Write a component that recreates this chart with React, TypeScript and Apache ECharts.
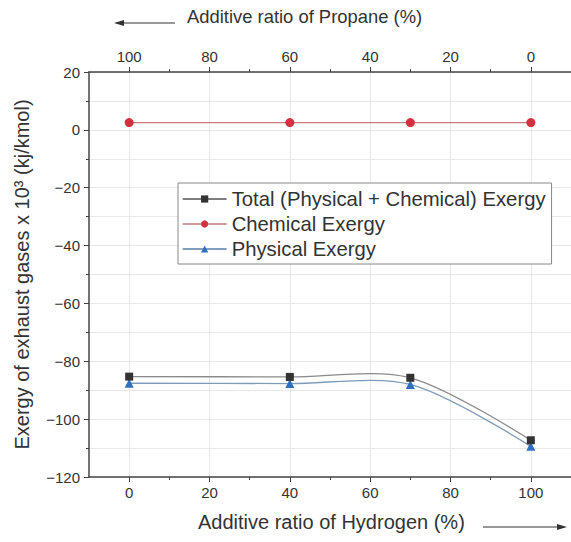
import React, { useEffect, useRef } from "react";
import * as echarts from "echarts";

const hydrogen = [0, 40, 70, 100];
const totalExergy = [-85.3, -85.4, -85.7, -107.3];
const chemicalExergy = [2.5, 2.5, 2.5, 2.5];
const physicalExergy = [-87.6, -87.7, -88.0, -109.4];
const majorTicks = [0, 20, 40, 60, 80, 100];
const minorTicks = [10, 30, 50, 70, 90];

const FONT = "'Liberation Sans', Arial, sans-serif";
const AX = "#444";
const TXT = "#333";
const SMOOTH = 0.3;

function splinePath(pts: number[][]): string {
  const n = pts.length;
  const cpIn: number[][] = [];
  const cpOut: number[][] = [];
  for (let i = 0; i < n; i++) {
    const p = pts[i];
    if (i === 0 || i === n - 1) {
      cpIn.push(p);
      cpOut.push(p);
      continue;
    }
    const a = pts[i - 1];
    const b = pts[i + 1];
    const vx = b[0] - a[0];
    const vy = b[1] - a[1];
    const l0 = Math.hypot(p[0] - a[0], p[1] - a[1]);
    const l1 = Math.hypot(b[0] - p[0], b[1] - p[1]);
    const r = l1 / (l0 + l1);
    cpIn.push([p[0] - vx * SMOOTH * (1 - r), p[1] - vy * SMOOTH * (1 - r)]);
    cpOut.push([p[0] + vx * SMOOTH * r, p[1] + vy * SMOOTH * r]);
  }
  let d = `M${pts[0][0]},${pts[0][1]}`;
  for (let i = 0; i < n - 1; i++) {
    const c1 = cpOut[i];
    const c2 = cpIn[i + 1];
    const e = pts[i + 1];
    d += ` C${c1[0]},${c1[1]} ${c2[0]},${c2[1]} ${e[0]},${e[1]}`;
  }
  return d;
}

const fmtMinus = (v: number) => String(v).replace("-", "\u2212");

export default function App() {
  const ref = useRef<HTMLDivElement>(null);
  useEffect(() => {
    document.body.style.margin = "0";
    if (!ref.current) return;
    const chart = echarts.init(ref.current, undefined, { renderer: "svg" });
    const baseX = (pos: "top" | "bottom", inverse: boolean) => ({
      type: "value",
      position: pos,
      min: -10,
      max: 110,
      interval: 10,
      inverse,
      axisLine: { show: true, onZero: false, lineStyle: { color: AX, width: 1.5 } },
      axisTick: { show: true, customValues: majorTicks, length: 5, lineStyle: { color: AX } },
      axisLabel: {
        show: true,
        customValues: majorTicks,
        fontSize: 15,
        color: TXT,
        fontFamily: FONT,
        margin: 8,
      },
      splitLine: { show: pos === "bottom", lineStyle: { color: "#e8e8e8", width: 1 } },
    });
    const minorX = (pos: "top" | "bottom") => ({
      type: "value",
      position: pos,
      min: -10,
      max: 110,
      interval: 10,
      axisLine: { show: false, onZero: false },
      axisTick: { show: true, customValues: minorTicks, length: 3, lineStyle: { color: AX } },
      axisLabel: { show: false },
      splitLine: { show: false },
    });
    const curve = (vals: number[], color: string, z: number) => ({
      type: "custom",
      xAxisIndex: 0,
      silent: true,
      z,
      data: [[hydrogen[0], vals[0]]],
      renderItem: (_params: any, api: any) => {
        const pts = hydrogen.map((h, i) => api.coord([h, vals[i]]));
        return {
          type: "path",
          shape: { pathData: splinePath(pts) },
          style: { stroke: color, fill: "none", lineWidth: 1.3 },
        };
      },
    });
    chart.setOption({
      animation: false,
      backgroundColor: "#fff",
      grid: { left: 89, right: -6, top: 72, bottom: 65 },
      xAxis: [baseX("bottom", false), baseX("top", true), minorX("bottom"), minorX("top")],
      yAxis: {
        type: "value",
        min: -120,
        max: 20,
        interval: 20,
        name: "Exergy of exhaust gases x 10³ (kj/kmol)",
        nameLocation: "middle",
        nameGap: 57,
        nameTextStyle: { fontSize: 20, color: TXT, fontFamily: FONT },
        axisLine: { show: true, onZero: false, lineStyle: { color: AX, width: 1.5 } },
        axisTick: { show: true, length: 5, lineStyle: { color: AX } },
        minorTick: { show: true, splitNumber: 2, length: 3, lineStyle: { color: AX } },
        axisLabel: { fontSize: 15, color: TXT, fontFamily: FONT, margin: 9, formatter: fmtMinus },
        splitLine: { show: true, lineStyle: { color: "#e8e8e8" } },
        minorSplitLine: { show: true, lineStyle: { color: "#e8e8e8" } },
      },
      legend: {
        orient: "vertical",
        left: 178,
        top: 183,
        itemWidth: 44,
        itemHeight: 9,
        itemGap: 5,
        padding: [6, 6, 5, 4],
        borderColor: "#888",
        borderWidth: 1,
        backgroundColor: "#fff",
        textStyle: { fontSize: 20.3, color: TXT, fontFamily: FONT },
        data: [
          { name: "Total (Physical + Chemical) Exergy", lineStyle: { color: "#555", opacity: 1, width: 1.3 } },
          { name: "Chemical Exergy", lineStyle: { color: "#c47a7e", opacity: 1, width: 1.3 } },
          { name: "Physical Exergy", lineStyle: { color: "#5a7fa8", opacity: 1, width: 1.3 } },
        ],
      },
      series: [
        curve(totalExergy, "#8a8a8a", 2),
        curve(physicalExergy, "#7f9bb8", 1),
        {
          name: "Total (Physical + Chemical) Exergy",
          type: "line",
          xAxisIndex: 0,
          data: hydrogen.map((h, i) => [h, totalExergy[i]]),
          symbol: "rect",
          symbolSize: 8,
          itemStyle: { color: "#333" },
          lineStyle: { color: "#555", width: 1.3, opacity: 0 },
          z: 4,
        },
        {
          name: "Chemical Exergy",
          type: "line",
          xAxisIndex: 0,
          data: hydrogen.map((h, i) => [h, chemicalExergy[i]]),
          symbol: "circle",
          symbolSize: 9,
          itemStyle: { color: "#d2323f" },
          lineStyle: { color: "#c47a7e", width: 1.2 },
          z: 3,
        },
        {
          name: "Physical Exergy",
          type: "line",
          xAxisIndex: 0,
          data: hydrogen.map((h, i) => [h, physicalExergy[i]]),
          symbol: "triangle",
          symbolSize: 9,
          itemStyle: { color: "#2f6fc0" },
          lineStyle: { color: "#5a7fa8", width: 1.3, opacity: 0 },
          z: 3,
        },
      ],
      graphic: [
        {
          type: "text",
          left: 187,
          top: 7,
          style: { text: "Additive ratio of Propane (%)", fontSize: 18.4, fill: TXT, fontFamily: FONT },
        },
        { type: "line", shape: { x1: 120, y1: 23, x2: 175, y2: 23 }, style: { stroke: "#333", lineWidth: 1.2 } },
        { type: "polygon", shape: { points: [[114, 23], [124, 20], [124, 26]] }, style: { fill: "#333" } },
        {
          type: "text",
          left: 198,
          top: 512,
          style: { text: "Additive ratio of Hydrogen (%)", fontSize: 20, fill: TXT, fontFamily: FONT },
        },
        { type: "line", shape: { x1: 483, y1: 527, x2: 560, y2: 527 }, style: { stroke: "#333", lineWidth: 1.2 } },
        { type: "polygon", shape: { points: [[567, 527], [557, 524], [557, 530]] }, style: { fill: "#333" } },
      ],
    });
    return () => chart.dispose();
  }, []);
  return <div ref={ref} style={{ width: 571, height: 542 }} />;
}
